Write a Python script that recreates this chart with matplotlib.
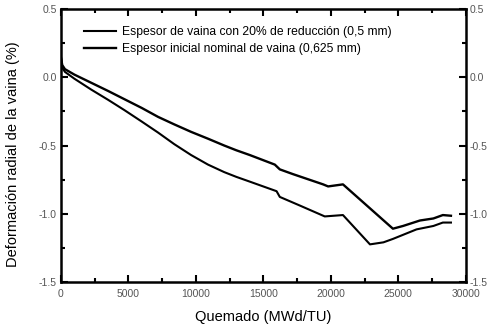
import matplotlib
matplotlib.use("Agg")
import matplotlib.pyplot as plt
from matplotlib.ticker import MultipleLocator, FormatStrFormatter

plt.rcParams['font.family'] = ['Liberation Sans', 'DejaVu Sans']

# Quemado (MWd/TU) y deformación radial (%) para cada espesor de vaina
burnup_nominal = [0, 100, 300, 1000, 2250, 3500, 4700, 6000, 7200, 8400,
                  9650, 10900, 12100, 13000, 14000, 15850, 16220, 17200,
                  19430, 19800, 20900, 24600, 25350, 26600, 27600, 28300,
                  28900]
strain_nominal = [0.15, 0.09, 0.06, 0.02, -0.04, -0.10, -0.16, -0.225, -0.29,
                  -0.345, -0.40, -0.45, -0.50, -0.535, -0.57, -0.64, -0.675,
                  -0.71, -0.785, -0.80, -0.785, -1.11, -1.09, -1.05, -1.035,
                  -1.01, -1.015]

burnup_reduced = [0, 100, 300, 1000, 2250, 3500, 4700, 6000, 7200, 8400,
                  9650, 10900, 12100, 13000, 14000, 15980, 16220, 17700,
                  19550, 20900, 22900, 23900, 24600, 26350, 27600, 28300,
                  28900]
strain_reduced = [0.15, 0.07, 0.04, -0.01, -0.09, -0.165, -0.24, -0.325,
                  -0.405, -0.49, -0.57, -0.64, -0.695, -0.73, -0.765, -0.835,
                  -0.877, -0.94, -1.02, -1.01, -1.225, -1.21, -1.185, -1.115,
                  -1.09, -1.065, -1.065]

label_reduced = "Espesor de vaina con 20% de reducción (0,5 mm)"
label_nominal = "Espesor inicial nominal de vaina (0,625 mm)"

fig = plt.figure(figsize=(4.95, 3.27), dpi=100)
ax = fig.add_axes([0.123, 0.138, 0.818, 0.834])

ax.plot(burnup_reduced, strain_reduced, color='black', lw=1.5,
        label=label_reduced)
ax.plot(burnup_nominal, strain_nominal, color='black', lw=1.7,
        label=label_nominal)

ax.set_xlim(0, 30000)
ax.set_ylim(-1.5, 0.5)
ax.xaxis.set_major_locator(MultipleLocator(5000))
ax.xaxis.set_minor_locator(MultipleLocator(2500))
ax.yaxis.set_major_locator(MultipleLocator(0.5))
ax.yaxis.set_minor_locator(MultipleLocator(0.25))
ax.yaxis.set_major_formatter(FormatStrFormatter('%.1f'))

ax.tick_params(which='both', direction='in', top=True, right=True,
               labelright=True, width=1.5, colors='black',
               labelcolor='#555555', labelsize=7.5, pad=3)
ax.tick_params(axis='x', which='both', pad=5)
ax.tick_params(which='major', length=5)
ax.tick_params(which='minor', length=3)
for sp in ax.spines.values():
    sp.set_linewidth(1.8)

ax.set_xlabel("Quemado (MWd/TU)", fontsize=10.5, labelpad=8)
ax.set_ylabel("Deformación radial de la vaina (%)", fontsize=10.5)
ax.yaxis.set_label_coords(-0.101, 0.47)

ax.legend(loc='upper left', bbox_to_anchor=(0.035, 0.968), frameon=False,
          fontsize=8.7, handlelength=2.7, handletextpad=0.45,
          labelspacing=0.4, borderaxespad=0.3)

fig.savefig("out.png", dpi=100)
